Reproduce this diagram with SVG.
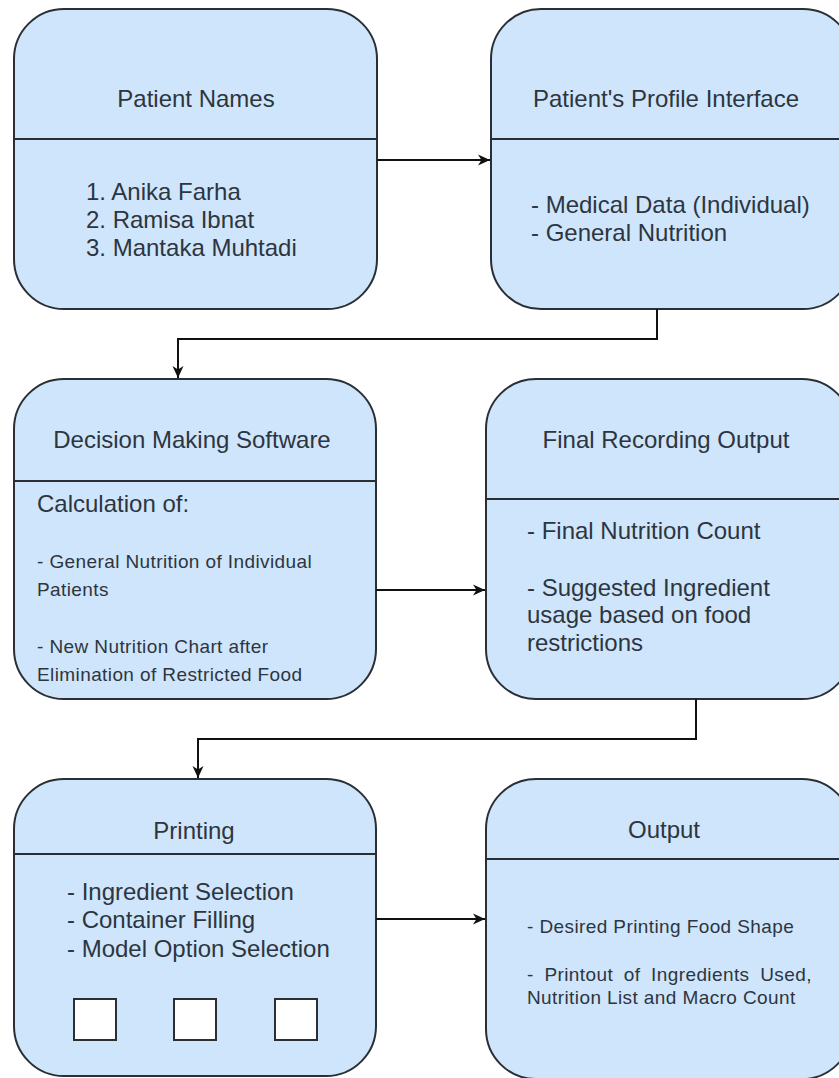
<svg xmlns="http://www.w3.org/2000/svg" width="839" height="1078" viewBox="0 0 839 1078">
<style>
.box{fill:#cfe5fb;stroke:#2a2f36;stroke-width:2}
.div{stroke:#2a2f36;stroke-width:2;fill:none}
.t{font-family:"Liberation Sans",Arial,sans-serif;font-size:24px;fill:#2d3540}
.c{text-anchor:middle}
.s{font-family:"Liberation Sans",Arial,sans-serif;font-size:19px;letter-spacing:0.4px;fill:#2d3540}
.sq{fill:#ffffff;stroke:#2a2f36;stroke-width:2}
.con{fill:none;stroke:#111;stroke-width:2}
</style>
<defs>
<marker id="arr" viewBox="0 0 12 12" refX="12" refY="6" markerWidth="12" markerHeight="12" markerUnits="userSpaceOnUse" orient="auto">
<path d="M0,0.5 L12,6 L0,11.5 L3.5,6 Z" fill="#111"/>
</marker>
</defs>
<rect width="839" height="1078" fill="#ffffff"/>

<g id="node-patient-names">
<rect class="box" x="14" y="9" width="363" height="300" rx="50" ry="50"/>
<line class="div" x1="14" y1="139" x2="377" y2="139"/>
<text class="t c" x="196" y="107">Patient Names</text>
<text class="t" x="86" y="200">1. Anika Farha</text>
<text class="t" x="86" y="228">2. Ramisa Ibnat</text>
<text class="t" x="86" y="256">3. Mantaka Muhtadi</text>
</g>

<g id="node-profile">
<rect class="box" x="491" y="9" width="362" height="300" rx="50" ry="50"/>
<line class="div" x1="491" y1="139" x2="853" y2="139"/>
<text class="t c" x="666" y="107">Patient's Profile Interface</text>
<text class="t" x="531" y="213">- Medical Data (Individual)</text>
<text class="t" x="531" y="241">- General Nutrition</text>
</g>

<g id="node-decision">
<rect class="box" x="14" y="379" width="362" height="320" rx="50" ry="50"/>
<line class="div" x1="14" y1="481" x2="376" y2="481"/>
<text class="t c" x="192" y="448">Decision Making Software</text>
<text class="t" x="37" y="512">Calculation of:</text>
<text class="s" x="37" y="568">- General Nutrition of Individual</text>
<text class="s" x="37" y="596">Patients</text>
<text class="s" x="37" y="653">- New Nutrition Chart after</text>
<text class="s" x="37" y="681">Elimination of Restricted Food</text>
</g>

<g id="node-final-recording">
<rect class="box" x="486" y="379" width="366" height="320" rx="50" ry="50"/>
<line class="div" x1="486" y1="499" x2="852" y2="499"/>
<text class="t c" x="666" y="448">Final Recording Output</text>
<text class="t" x="527" y="539">- Final Nutrition Count</text>
<text class="t" x="527" y="596">- Suggested Ingredient</text>
<text class="t" x="527" y="623">usage based on food</text>
<text class="t" x="527" y="651">restrictions</text>
</g>

<g id="node-printing">
<rect class="box" x="14" y="779" width="362" height="297" rx="50" ry="50"/>
<line class="div" x1="14" y1="854" x2="376" y2="854"/>
<text class="t c" x="194" y="839">Printing</text>
<text class="t" x="67" y="900">- Ingredient Selection</text>
<text class="t" x="67" y="928">- Container Filling</text>
<text class="t" x="67" y="957">- Model Option Selection</text>
<rect class="sq" x="74" y="999" width="42" height="41"/>
<rect class="sq" x="174" y="999" width="42" height="41"/>
<rect class="sq" x="275" y="999" width="42" height="41"/>
</g>

<g id="node-output">
<rect class="box" x="486" y="779" width="366" height="300" rx="50" ry="50"/>
<line class="div" x1="486" y1="859" x2="852" y2="859"/>
<text class="t c" x="664" y="838">Output</text>
<text class="s" x="527" y="933">- Desired Printing Food Shape</text>
<text class="s" x="527" y="981" word-spacing="5">- Printout of Ingredients Used,</text>
<text class="s" x="527" y="1004">Nutrition List and Macro Count</text>
</g>

<g id="connectors">
<path class="con" d="M377,160 L490,160" marker-end="url(#arr)"/>
<path class="con" d="M657,309 L657,339 L178,339 L178,378" marker-end="url(#arr)"/>
<path class="con" d="M376,590 L485,590" marker-end="url(#arr)"/>
<path class="con" d="M696,699 L696,739 L198,739 L198,778" marker-end="url(#arr)"/>
<path class="con" d="M376,919 L485,919" marker-end="url(#arr)"/>
</g>
</svg>
